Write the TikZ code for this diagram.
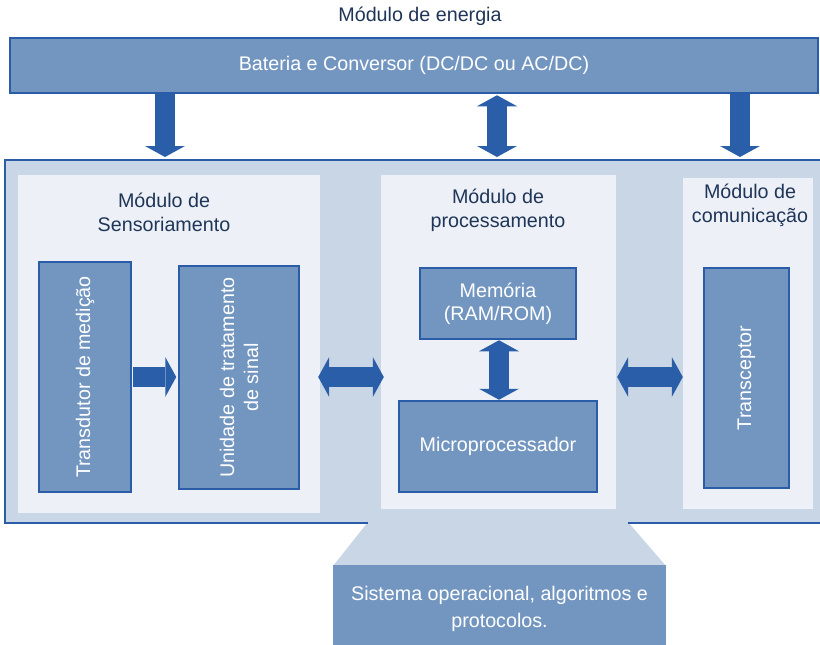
\documentclass[tikz,border=0pt]{standalone}
\usepackage{fontspec}
\setmainfont{Liberation Sans}
\usetikzlibrary{arrows.meta,calc}
\definecolor{boxfill}{HTML}{7396C1}
\definecolor{edgec}{HTML}{2A5CA8}
\definecolor{outerfill}{HTML}{C9D6E6}
\definecolor{panelfill}{HTML}{EDF1F7}
\definecolor{titletext}{HTML}{1F3557}
\definecolor{arrowc}{HTML}{2A5EA8}
\tikzset{
  txt/.style={font=\fontsize{19.7}{24}\selectfont},
  box/.style={txt, draw=edgec, line width=2.5pt, fill=boxfill, text=white, inner sep=0pt, align=center},
  panel/.style={fill=panelfill, inner sep=0pt},
  titletxt/.style={txt, text=titletext, align=center, inner sep=0pt},
  onearrow/.style={draw=arrowc, line width=20pt, -{Triangle[width=40pt,length=11pt,line width=0pt,fill=arrowc]}},
  twoarrow/.style={draw=arrowc, line width=20pt, {Triangle[width=40pt,length=11pt,line width=0pt,fill=arrowc]}-{Triangle[width=40pt,length=11pt,line width=0pt,fill=arrowc]}},
}
\begin{document}
\begin{tikzpicture}[x=1pt,y=-1pt]
\useasboundingbox (0,0) rectangle (820,645);
% outer container
\fill[outerfill] (5,160) rectangle (835,523);
\fill[outerfill] (368,522) -- (628,522) -- (666,566) -- (333,566) -- cycle;
\draw[edgec, line width=2.5pt] (368,523) -- (5,523) -- (5,160) -- (835,160);
\draw[edgec, line width=2.5pt] (628,523) -- (835,523);
% bottom box
\node[txt, fill=boxfill, text=white, align=center, inner sep=0pt, minimum width=333pt, minimum height=87pt, font=\fontsize{19.7}{27}\selectfont] (os) at (499.5,608.5) {Sistema operacional, algoritmos e\\protocolos.};
% energy
\node[titletxt] (entitle) at (420,16) {Módulo de energia};
\node[box, minimum width=808pt, minimum height=55pt] (bar) at (414,65.5) {Bateria e Conversor (DC/DC ou AC/DC)};
% panels
\node[panel, minimum width=302pt, minimum height=338pt] (sens) at (169,344) {};
\node[panel, minimum width=235pt, minimum height=334pt] (proc) at (498.5,342) {};
\node[panel, minimum width=130pt, minimum height=331pt] (comm) at (748,343.5) {};
\node[titletxt] (senstitle) at (164,212) {Módulo de\\Sensoriamento};
\node[titletxt] (proctitle) at (498,210) {Módulo de\\processamento};
\node[titletxt] (commtitle) at (750,205.5) {Módulo de\\comunicação};
% boxes
\node[box, minimum width=92pt, minimum height=230pt] (trans) at (85,377) {};
\node[txt, text=white, rotate=90, inner sep=0pt] (translabel) at (trans.center) {Transdutor de medição};
\node[box, minimum width=120pt, minimum height=223pt] (unid) at (239,377.5) {};
\node[txt, text=white, rotate=90, align=center, inner sep=0pt] (unidlabel) at (unid.center) {Unidade de tratamento\\de sinal};
\node[box, minimum width=156pt, minimum height=71pt, font=\fontsize{19.7}{23}\selectfont] (mem) at (498,303.5) {Memória\\(RAM/ROM)};
\node[box, minimum width=198pt, minimum height=91pt] (micro) at (498,446.5) {Microprocessador};
\node[box, minimum width=85pt, minimum height=220pt] (transc) at (746.5,378) {};
\node[txt, text=white, rotate=90, inner sep=0pt] (transclabel) at (transc.center) {Transceptor};
% arrows
\coordinate (t1) at (165,157);
\coordinate (t2) at (497,157);
\coordinate (t3) at (740,157);
\draw[onearrow] (bar.south -| t1) -- (t1);
\draw[twoarrow] ([yshift=-1pt]bar.south -| t2) -- (t2);
\draw[onearrow] (bar.south -| t3) -- (t3);
\draw[onearrow] ([xshift=1pt]trans.east) -- ([xshift=-1.5pt]trans.east -| unid.west);
\draw[twoarrow] ([xshift=-2pt]sens.east |- trans) -- ([xshift=3pt]proc.west |- trans);
\draw[twoarrow] ([xshift=1pt]mem.south) -- ([xshift=1pt]micro.north);
\draw[twoarrow] ([xshift=1pt]proc.east |- trans) -- (comm.west |- trans);
\end{tikzpicture}
\end{document}
